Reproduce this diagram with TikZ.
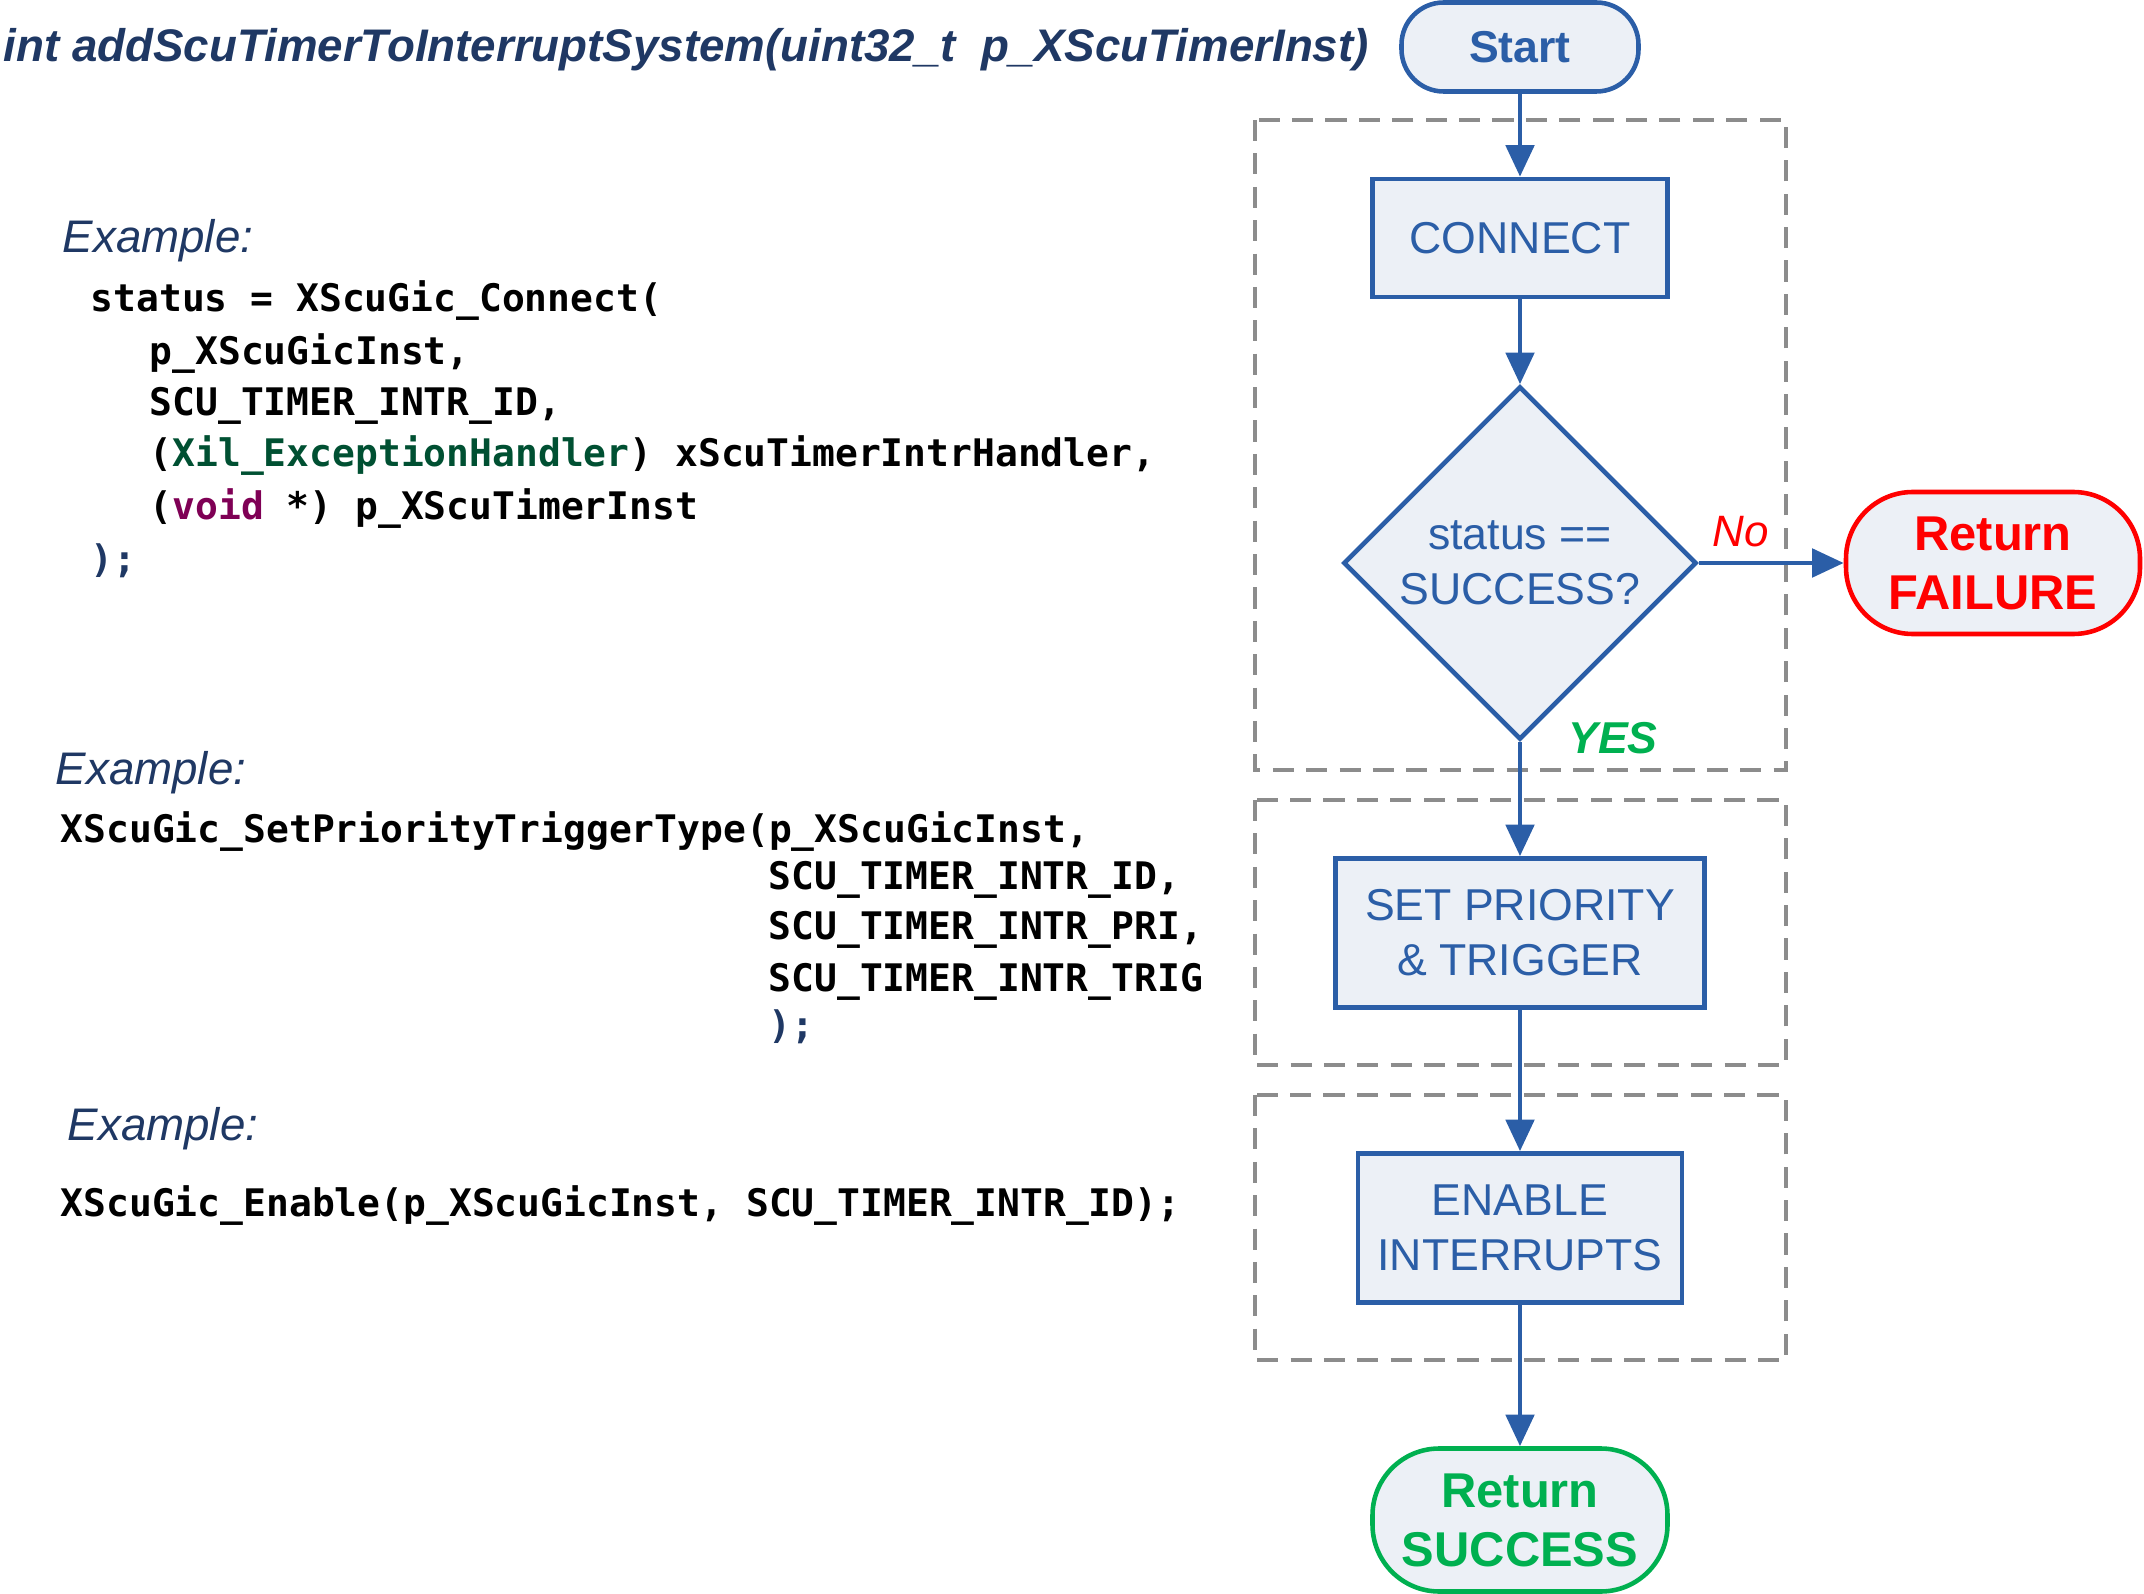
\documentclass[tikz,border=0pt]{standalone}
\usepackage{fontspec}
\setmainfont{Liberation Sans}
\setmonofont{DejaVu Sans Mono}
\usetikzlibrary{shapes.geometric,arrows.meta}

\definecolor{fblue}{RGB}{43,94,167}
\definecolor{ffill}{RGB}{236,240,246}
\definecolor{fred}{RGB}{255,0,0}
\definecolor{fgreen}{RGB}{0,176,80}
\definecolor{navy}{RGB}{31,56,100}
\definecolor{dgray}{RGB}{140,140,140}
\definecolor{typegreen}{RGB}{0,80,50}
\definecolor{kwpurple}{RGB}{127,0,85}

\newcommand{\flowfont}{\fontsize{12.7}{15.6}\selectfont}
\newcommand{\termfont}{\fontsize{13.9}{16.8}\selectfont\bfseries}
\newcommand{\codefont}{\fontsize{10.8}{13}\selectfont\ttfamily\bfseries}

\tikzset{
  flow/.style={draw=fblue, line width=1.3pt, fill=ffill, text=fblue,
    font=\flowfont, align=center, inner sep=0pt},
  procbox/.style={flow, rectangle},
  decision/.style={flow, diamond, aspect=1},
  term/.style={flow, rectangle, rounded corners=#1},
  arr/.style={draw=fblue, line width=1.4pt, -{Triangle[length=9pt,width=8pt]}},
  group/.style={draw=dgray, line width=0.9pt, dash pattern=on 6pt off 3.5pt},
  codeline/.style={anchor=base west, inner sep=0pt, font=\codefont, text=black},
  example/.style={anchor=base west, inner sep=0pt, text=navy,
    font=\fontsize{13}{15}\selectfont\itshape},
}

\begin{document}
\begin{tikzpicture}
\useasboundingbox (0,0) rectangle (21.44,-15.94);

% function signature
\node[anchor=base west, inner sep=0pt, text=navy,
      font=\fontsize{13}{15}\selectfont\bfseries\itshape] (title) at (0.03,-0.62)
  {int addScuTimerToInterruptSystem(uint32\_t\ \ p\_XScuTimerInst)};

% grouping frames
\draw[group] (12.55,-1.20) rectangle (17.86,-7.70);
\draw[group] (12.55,-8.00) rectangle (17.86,-10.65);
\draw[group] (12.55,-10.95) rectangle (17.86,-13.60);

% flowchart
\node[term=12pt, font=\flowfont\bfseries, minimum width=2.37cm, minimum height=0.89cm]
  (start) at (15.20,-0.47) {Start};
\node[procbox, minimum width=2.95cm, minimum height=1.18cm] (connect) at (15.20,-2.38) {CONNECT};
\node[decision, minimum width=3.53cm, minimum height=3.53cm] (check) at (15.20,-5.63)
  {status ==\\SUCCESS?};
\node[term=19pt, draw=fred, text=fred, font=\termfont, minimum width=2.94cm, minimum height=1.42cm]
  (failure) at (19.93,-5.63) {Return\\FAILURE};
\node[procbox, minimum width=3.69cm, minimum height=1.49cm] (prio) at (15.20,-9.33)
  {SET PRIORITY\\\& TRIGGER};
\node[procbox, minimum width=3.24cm, minimum height=1.49cm] (enable) at (15.20,-12.28)
  {ENABLE\\INTERRUPTS};
\node[term=19pt, draw=fgreen, text=fgreen, font=\termfont, minimum width=2.95cm, minimum height=1.43cm]
  (success) at (15.20,-15.20) {Return\\SUCCESS};

\draw[arr] (start) -- (connect);
\draw[arr] (connect) -- (check);
\draw[arr] (check.east) -- (failure.west);
\draw[arr] (check.south) -- (prio.north);
\draw[arr] (prio) -- (enable);
\draw[arr] (enable) -- (success);

\node[text=fred, font=\fontsize{12.5}{15}\selectfont\itshape] (nolbl) at (17.41,-5.32) {No};
\node[text=fgreen, font=\fontsize{12.7}{15}\selectfont\bfseries\itshape] (yeslbl) at (16.13,-7.38) {YES};

% code examples
\node[example] (ex1) at (0.62,-2.53) {Example:};
\node[codeline] (c1a) at (0.90,-3.12) {status = XScuGic\_Connect(};
\node[codeline] (c1b) at (1.49,-3.65) {p\_XScuGicInst,};
\node[codeline] (c1c) at (1.49,-4.16) {SCU\_TIMER\_INTR\_ID,};
\node[codeline] (c1d) at (1.49,-4.67) {(\textcolor{typegreen}{Xil\_ExceptionHandler}) xScuTimerIntrHandler,};
\node[codeline] (c1e) at (1.49,-5.20) {(\textcolor{kwpurple}{void} *) p\_XScuTimerInst};
\node[codeline, text=navy] (c1f) at (0.90,-5.73) {);};

\node[example] (ex2) at (0.55,-7.84) {Example:};
\node[codeline] (c2a) at (0.60,-8.43) {XScuGic\_SetPriorityTriggerType(p\_XScuGicInst,};
\node[codeline] (c2b) at (7.68,-8.89) {SCU\_TIMER\_INTR\_ID,};
\node[codeline] (c2c) at (7.68,-9.39) {SCU\_TIMER\_INTR\_PRI,};
\node[codeline] (c2d) at (7.68,-9.91) {SCU\_TIMER\_INTR\_TRIG};
\node[codeline, text=navy] (c2e) at (7.68,-10.38) {);};

\node[example] (ex3) at (0.67,-11.40) {Example:};
\node[codeline] (c3a) at (0.60,-12.16) {XScuGic\_Enable(p\_XScuGicInst, SCU\_TIMER\_INTR\_ID);};
\end{tikzpicture}
\end{document}
